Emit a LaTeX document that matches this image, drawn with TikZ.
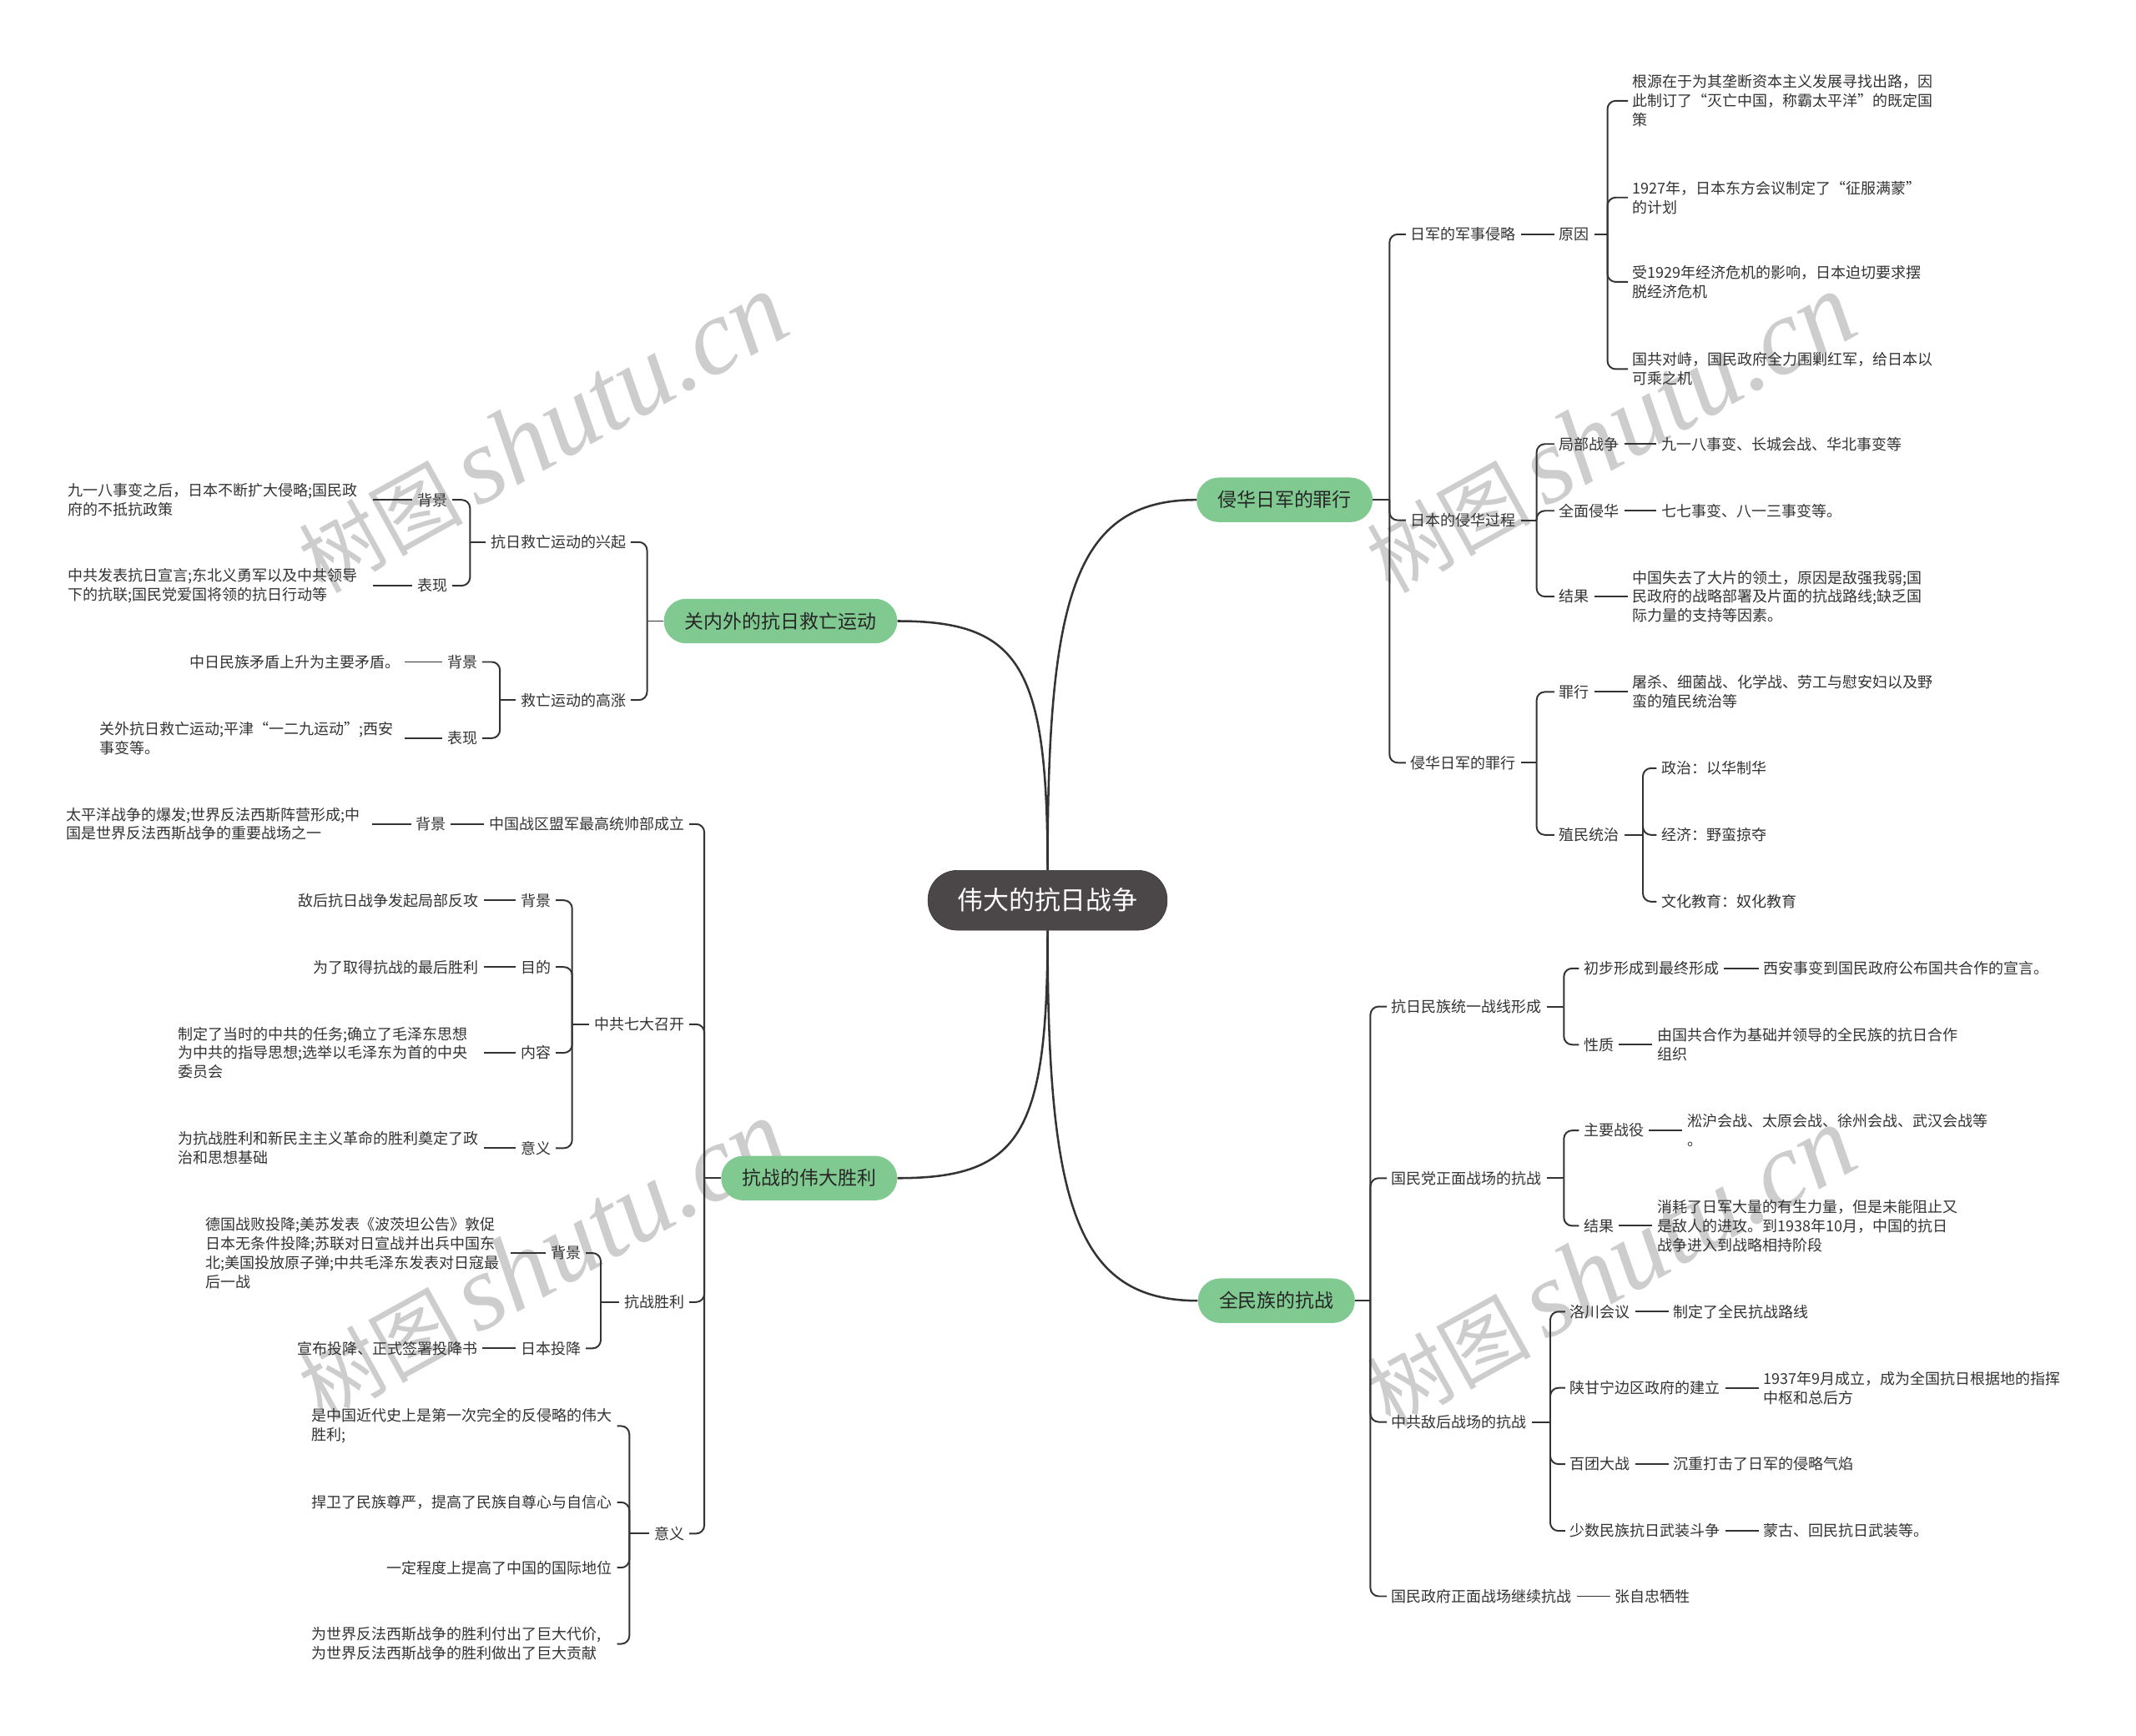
\documentclass[tikz,border=0pt]{standalone}
\usepackage{fontspec}
\setmainfont{Noto Sans CJK SC}
\newfontfamily\wmserif{Liberation Serif}
\usetikzlibrary{positioning}

\definecolor{ln}{HTML}{333333}
\definecolor{txt}{HTML}{333333}
\definecolor{topicgreen}{HTML}{80C990}
\definecolor{rootgray}{HTML}{4B4647}
\definecolor{wmgray}{HTML}{CDCDCD}

\tikzset{
  leaf/.style={font=\fontsize{12.8pt}{16.3pt}\selectfont, text=txt, inner xsep=4pt, inner ysep=1pt, align=left},
  para/.style={leaf, text width=256pt},
  topic/.style={fill=topicgreen, rounded corners=19pt, minimum height=38pt, inner xsep=18pt,
    font=\fontsize{16.3pt}{20pt}\selectfont, text=black!85},
  rootbox/.style={fill=rootgray, draw=rootgray!70!black, rounded corners=25pt, minimum height=51pt,
    inner xsep=25pt, font=\fontsize{22pt}{26pt}\selectfont, text=white},
  link/.style={draw=ln, line width=1.4pt},
  brace/.style={link, rounded corners=7pt},
  mainlink/.style={draw=ln, line width=1.8pt},
  wm/.style={text=wmgray, rotate=29, inner sep=0pt}
}
\newcommand\twig[2]{\draw[brace] (#1) |- (#2);}

\begin{document}
\begin{tikzpicture}[x=0.040816cm, y=-0.040816cm]
  \fill[white] (0,0) rectangle (1568,1274);
  \useasboundingbox (0,0) rectangle (1568,1274);

  % watermark
  \foreach \x/\y [count=\i] in {398/318, 1182/318, 398/925, 1182/930}
    \node[wm] (wm\i) at (\x,\y) {{\fontsize{70pt}{70pt}\selectfont 树图\,}{\wmserif\itshape\fontsize{92pt}{92pt}\selectfont shutu.cn}};

  % root and main topics
  \node[rootbox] (root) at (769,661) {伟大的抗日战争};
  \node[topic] (qh) at (943,367) {侵华日军的罪行};
  \node[topic] (gn) at (573,456) {关内外的抗日救亡运动};
  \node[topic] (sl) at (594,865) {抗战的伟大胜利};
  \node[topic] (qm) at (937,955) {全民族的抗战};

  \draw[mainlink] (root.north) .. controls +(0,-200) and +(-90,0) .. (qh.west);
  \draw[mainlink] (root.north) .. controls +(0,-150) and +(90,0) .. (gn.east);
  \draw[mainlink] (root.south) .. controls +(0,150) and +(90,0) .. (sl.east);
  \draw[mainlink] (root.south) .. controls +(0,200) and +(-90,0) .. (qm.west);

  % ---- 侵华日军的罪行 ----
  \coordinate (qhJ) at (1020,367);
  \node[leaf, anchor=west] (qh1) at (1032,172) {日军的军事侵略};
  \node[leaf, anchor=west] (qh2) at (1032,382) {日本的侵华过程};
  \node[leaf, anchor=west] (qh3) at (1032,560) {侵华日军的罪行};
  \draw[link] (qh.east) -- (qhJ);
  \foreach \c in {qh1,qh2,qh3} \twig{qhJ}{\c.west};

  \node[leaf, anchor=west] (yy) at (1141,172) {原因};
  \draw[link] (qh1.east) -- (yy.west);
  \coordinate (yyJ) at (1180,172);
  \draw[link] (yy.east) -- (yyJ);
  \node[para, anchor=west] (yy1) at (1195,74) {根源在于为其垄断资本主义发展寻找出路，因\\此制订了“灭亡中国，称霸太平洋”的既定国\\策};
  \node[para, anchor=west] (yy2) at (1195,145) {1927年，日本东方会议制定了“征服满蒙”\\的计划};
  \node[para, anchor=west] (yy3) at (1195,207) {受1929年经济危机的影响，日本迫切要求摆\\脱经济危机};
  \node[para, anchor=west] (yy4) at (1195,271) {国共对峙，国民政府全力围剿红军，给日本以\\可乘之机};
  \foreach \c in {yy1,yy2,yy3,yy4} \twig{yyJ}{\c.west};

  \coordinate (qh2J) at (1128,382);
  \draw[link] (qh2.east) -- (qh2J);
  \node[leaf, anchor=west] (jb) at (1141,326) {局部战争};
  \node[leaf, anchor=west] (qmh) at (1141,375) {全面侵华};
  \node[leaf, anchor=west] (jg) at (1141,438) {结果};
  \foreach \c in {jb,qmh,jg} \twig{qh2J}{\c.west};
  \node[leaf, anchor=west] (jb1) at (1216,326) {九一八事变、长城会战、华北事变等};
  \node[leaf, anchor=west] (qmh1) at (1216,375) {七七事变、八一三事变等。};
  \node[para, anchor=west] (jg1) at (1195,438) {中国失去了大片的领土，原因是敌强我弱;国\\民政府的战略部署及片面的抗战路线;缺乏国\\际力量的支持等因素。};
  \draw[link] (jb.east) -- (jb1.west);
  \draw[link] (qmh.east) -- (qmh1.west);
  \draw[link] (jg.east) -- (jg1.west);

  \coordinate (qh3J) at (1128,560);
  \draw[link] (qh3.east) -- (qh3J);
  \node[leaf, anchor=west] (zx) at (1141,508) {罪行};
  \node[leaf, anchor=west] (zm) at (1141,613) {殖民统治};
  \foreach \c in {zx,zm} \twig{qh3J}{\c.west};
  \node[para, anchor=west] (zx1) at (1195,508) {屠杀、细菌战、化学战、劳工与慰安妇以及野\\蛮的殖民统治等};
  \draw[link] (zx.east) -- (zx1.west);
  \coordinate (zmJ) at (1206,613);
  \draw[link] (zm.east) -- (zmJ);
  \node[leaf, anchor=west] (zm1) at (1216,564) {政治：以华制华};
  \node[leaf, anchor=west] (zm2) at (1216,613) {经济：野蛮掠夺};
  \node[leaf, anchor=west] (zm3) at (1216,662) {文化教育：奴化教育};
  \foreach \c in {zm1,zm2,zm3} \twig{zmJ}{\c.west};

  % ---- 全民族的抗战 ----
  \coordinate (qmJ) at (1006,955);
  \draw[link] (qm.east) -- (qmJ);
  \node[leaf, anchor=west] (tz) at (1018,739) {抗日民族统一战线形成};
  \node[leaf, anchor=west] (gz) at (1018,865) {国民党正面战场的抗战};
  \node[leaf, anchor=west] (dh) at (1018,1044) {中共敌后战场的抗战};
  \node[leaf, anchor=west] (jx) at (1018,1172) {国民政府正面战场继续抗战};
  \foreach \c in {tz,gz,dh,jx} \twig{qmJ}{\c.west};

  \coordinate (tzJ) at (1148,739);
  \draw[link] (tz.east) -- (tzJ);
  \node[leaf, anchor=west] (tz1) at (1159,711) {初步形成到最终形成};
  \node[leaf, anchor=west] (tz2) at (1159,767) {性质};
  \foreach \c in {tz1,tz2} \twig{tzJ}{\c.west};
  \node[leaf, anchor=west] (tz1a) at (1291,711) {西安事变到国民政府公布国共合作的宣言。};
  \node[para, anchor=west] (tz2a) at (1213,767) {由国共合作为基础并领导的全民族的抗日合作\\组织};
  \draw[link] (tz1.east) -- (tz1a.west);
  \draw[link] (tz2.east) -- (tz2a.west);

  \coordinate (gzJ) at (1148,865);
  \draw[link] (gz.east) -- (gzJ);
  \node[leaf, anchor=west] (gz1) at (1159,830) {主要战役};
  \node[leaf, anchor=west] (gz2) at (1159,900) {结果};
  \foreach \c in {gz1,gz2} \twig{gzJ}{\c.west};
  \node[para, anchor=west] (gz1a) at (1235,830) {淞沪会战、太原会战、徐州会战、武汉会战等\\。};
  \node[para, anchor=west] (gz2a) at (1213,900) {消耗了日军大量的有生力量，但是未能阻止又\\是敌人的进攻。到1938年10月，中国的抗日\\战争进入到战略相持阶段};
  \draw[link] (gz1.east) -- (gz1a.west);
  \draw[link] (gz2.east) -- (gz2a.west);

  \coordinate (dhJ) at (1138,1044);
  \draw[link] (dh.east) -- (dhJ);
  \node[leaf, anchor=west] (dh1) at (1149,963) {洛川会议};
  \node[leaf, anchor=west] (dh2) at (1149,1019) {陕甘宁边区政府的建立};
  \node[leaf, anchor=west] (dh3) at (1149,1075) {百团大战};
  \node[leaf, anchor=west] (dh4) at (1149,1124) {少数民族抗日武装斗争};
  \foreach \c in {dh1,dh2,dh3,dh4} \twig{dhJ}{\c.west};
  \node[leaf, anchor=west] (dh1a) at (1225,963) {制定了全民抗战路线};
  \node[para, anchor=west] (dh2a) at (1291,1019) {1937年9月成立，成为全国抗日根据地的指挥\\中枢和总后方};
  \node[leaf, anchor=west] (dh3a) at (1225,1075) {沉重打击了日军的侵略气焰};
  \node[leaf, anchor=west] (dh4a) at (1291,1124) {蒙古、回民抗日武装等。};
  \foreach \c in {dh1,dh2,dh3,dh4} \draw[link] (\c.east) -- (\c a.west);

  \node[leaf, anchor=west] (jx1) at (1182,1172) {张自忠牺牲};
  \draw[link] (jx.east) -- (jx1.west);

  % ---- 关内外的抗日救亡运动 ----
  \coordinate (gnJ) at (475,456);
  \draw[link] (gn.west) -- (gnJ);
  \node[leaf, anchor=east] (xq) at (463,398) {抗日救亡运动的兴起};
  \node[leaf, anchor=east] (gz0) at (463,514) {救亡运动的高涨};
  \foreach \c in {xq,gz0} \twig{gnJ}{\c.east};

  \coordinate (xqJ) at (345,398);
  \draw[link] (xq.west) -- (xqJ);
  \node[leaf, anchor=east] (xq1) at (332,367) {背景};
  \node[leaf, anchor=east] (xq2) at (332,430) {表现};
  \foreach \c in {xq1,xq2} \twig{xqJ}{\c.east};
  \node[para, anchor=east] (xq1a) at (274,367) {九一八事变之后，日本不断扩大侵略;国民政\\府的不抵抗政策};
  \node[para, anchor=east] (xq2a) at (274,430) {中共发表抗日宣言;东北义勇军以及中共领导\\下的抗联;国民党爱国将领的抗日行动等};
  \draw[link] (xq1.west) -- (xq1a.east);
  \draw[link] (xq2.west) -- (xq2a.east);

  \coordinate (gz0J) at (367,514);
  \draw[link] (gz0.west) -- (gz0J);
  \node[leaf, anchor=east] (gz01) at (354,486) {背景};
  \node[leaf, anchor=east] (gz02) at (354,542) {表现};
  \foreach \c in {gz01,gz02} \twig{gz0J}{\c.east};
  \node[leaf, anchor=east] (gz01a) at (297,486) {中日民族矛盾上升为主要矛盾。};
  \node[para, anchor=east] (gz02a) at (297,542) {关外抗日救亡运动;平津“一二九运动”;西安\\事变等。};
  \draw[link] (gz01.west) -- (gz01a.east);
  \draw[link] (gz02.west) -- (gz02a.east);

  % ---- 抗战的伟大胜利 ----
  \coordinate (slJ) at (517,865);
  \draw[link] (sl.west) -- (slJ);
  \node[leaf, anchor=east] (mj) at (506,605) {中国战区盟军最高统帅部成立};
  \node[leaf, anchor=east] (qd) at (506,752) {中共七大召开};
  \node[leaf, anchor=east] (ks) at (506,956) {抗战胜利};
  \node[leaf, anchor=east] (yx) at (506,1126) {意义};
  \foreach \c in {mj,qd,ks,yx} \twig{slJ}{\c.east};

  \node[leaf, anchor=east] (mj1) at (331,605) {背景};
  \node[para, anchor=east] (mj1a) at (273,605) {太平洋战争的爆发;世界反法西斯阵营形成;中\\国是世界反法西斯战争的重要战场之一};
  \draw[link] (mj.west) -- (mj1.east);
  \draw[link] (mj1.west) -- (mj1a.east);

  \coordinate (qdJ) at (420,752);
  \draw[link] (qd.west) -- (qdJ);
  \node[leaf, anchor=east] (qd1) at (408,661) {背景};
  \node[leaf, anchor=east] (qd2) at (408,710) {目的};
  \node[leaf, anchor=east] (qd3) at (408,773) {内容};
  \node[leaf, anchor=east] (qd4) at (408,843) {意义};
  \foreach \c in {qd1,qd2,qd3,qd4} \twig{qdJ}{\c.east};
  \node[leaf, anchor=east] (qd1a) at (355,661) {敌后抗日战争发起局部反攻};
  \node[leaf, anchor=east] (qd2a) at (355,710) {为了取得抗战的最后胜利};
  \node[para, anchor=east] (qd3a) at (355,773) {制定了当时的中共的任务;确立了毛泽东思想\\为中共的指导思想;选举以毛泽东为首的中央\\委员会};
  \node[para, anchor=east] (qd4a) at (355,843) {为抗战胜利和新民主主义革命的胜利奠定了政\\治和思想基础};
  \foreach \c in {qd1,qd2,qd3,qd4} \draw[link] (\c.west) -- (\c a.east);

  \coordinate (ksJ) at (441,956);
  \draw[link] (ks.west) -- (ksJ);
  \node[leaf, anchor=east] (ks1) at (430,920) {背景};
  \node[leaf, anchor=east] (ks2) at (430,990) {日本投降};
  \foreach \c in {ks1,ks2} \twig{ksJ}{\c.east};
  \node[para, anchor=east] (ks1a) at (375,920) {德国战败投降;美苏发表《波茨坦公告》敦促\\日本无条件投降;苏联对日宣战并出兵中国东\\北;美国投放原子弹;中共毛泽东发表对日寇最\\后一战};
  \node[leaf, anchor=east] (ks2a) at (354,990) {宣布投降、正式签署投降书};
  \foreach \c in {ks1,ks2} \draw[link] (\c.west) -- (\c a.east);

  \coordinate (yxJ) at (462,1126);
  \draw[link] (yx.west) -- (yxJ);
  \node[para, anchor=east] (yx1) at (453,1047) {是中国近代史上是第一次完全的反侵略的伟大\\胜利;};
  \node[leaf, anchor=east] (yx2) at (453,1103) {捍卫了民族尊严，提高了民族自尊心与自信心};
  \node[leaf, anchor=east] (yx3) at (453,1151) {一定程度上提高了中国的国际地位};
  \node[para, anchor=east] (yx4) at (453,1207) {为世界反法西斯战争的胜利付出了巨大代价,\\为世界反法西斯战争的胜利做出了巨大贡献};
  \foreach \c in {yx1,yx2,yx3,yx4} \twig{yxJ}{\c.east};
\end{tikzpicture}
\end{document}
